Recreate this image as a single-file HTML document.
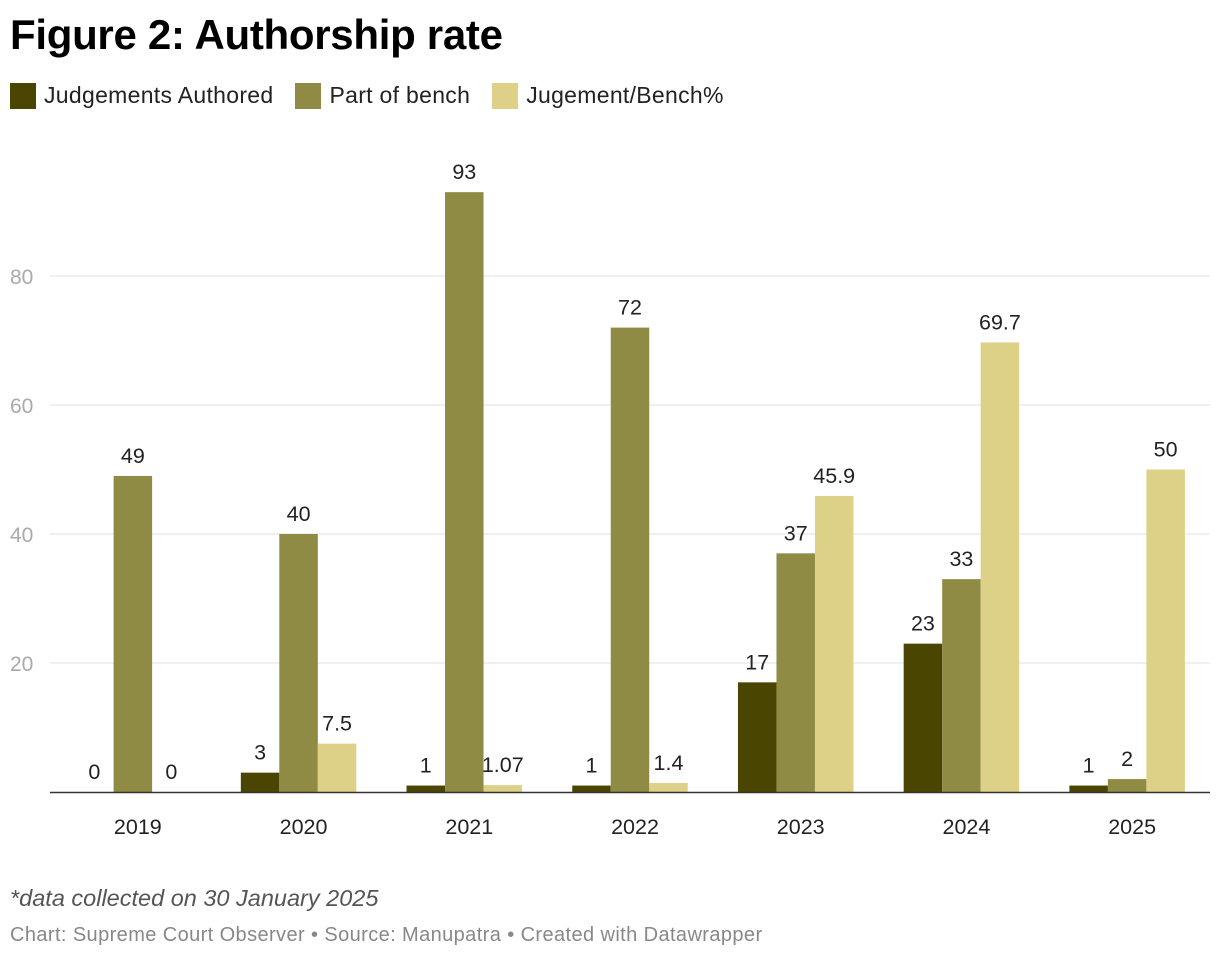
<!DOCTYPE html>
<html><head><meta charset="utf-8"><style>
body{margin:0;background:#fff;font-family:"Liberation Sans",sans-serif;width:1220px;height:962px;overflow:hidden;position:relative}
.t{position:absolute;left:10px;top:11px;font-size:42px;font-weight:bold;color:#000;letter-spacing:-0.3px}
.lg{position:absolute;top:82px;left:10px;display:flex;font-size:23px;color:#222;letter-spacing:0.3px}
.li{display:flex;align-items:center;margin-right:22px}
.sw{width:26px;height:26px;margin-right:8px}
.note{position:absolute;left:10px;top:885px;font-size:23.5px;font-style:italic;color:#555}
.src{position:absolute;left:10px;top:924px;font-size:20px;color:#888;letter-spacing:0.4px}
</style></head><body>
<div class="t">Figure 2: Authorship rate</div>
<div class="lg">
<div class="li"><div class="sw" style="background:#4a4500"></div>Judgements Authored</div>
<div class="li"><div class="sw" style="background:#8f8a44"></div>Part of bench</div>
<div class="li"><div class="sw" style="background:#ddd187"></div>Jugement/Bench%</div>
</div>
<svg id="ch" width="1220" height="962" style="position:absolute;left:0;top:0"></svg>
<div class="note">*data collected on 30 January 2025</div>
<div class="src">Chart: Supreme Court Observer • Source: Manupatra • Created with Datawrapper</div>
<script>
const years=["2019","2020","2021","2022","2023","2024","2025"];
const authored=[0,3,1,1,17,23,1];
const bench=[49,40,93,72,37,33,2];
const ratio=[0,7.5,1.07,1.4,45.9,69.7,50];
const ticks=[20,40,60,80];
const svg=document.getElementById('ch');const NS="http://www.w3.org/2000/svg";
const x0=50,x1=1210,y0=792,ppu=6.45;
const y=v=>y0-v*ppu;
const gw=(x1-x0)/years.length,bw=38.5;
function mk(t,a,txt){const e=document.createElementNS(NS,t);for(const k in a)e.setAttribute(k,a[k]);if(txt!==undefined)e.textContent=txt;svg.appendChild(e);return e;}
ticks.forEach(t=>{
const l=mk('line',{x1:x0,x2:x1,y1:y(t),y2:y(t),stroke:'#e0e0e0','stroke-width':1});


const tx=mk('text',{x:10,y:y(t)+8,'font-size':21,fill:'#aaa','font-family':'Liberation Sans'},t);


});
const series=[[authored,'#4a4500'],[bench,'#8f8a44'],[ratio,'#ddd187']];
years.forEach((yr,i)=>{
const c=x0+gw*(i+0.5);
series.forEach(([arr,col],j)=>{
const v=arr[i];const bx=c+(j-1.5)*bw;
const r=mk('rect',{x:bx,y:y(v),width:bw,height:v*ppu,fill:col});


const lb=mk('text',{x:bx+bw/2,y:y(v)-13,'font-size':21.5,fill:'#222','text-anchor':'middle','font-family':'Liberation Sans'},String(v));


});
const xl=mk('text',{x:c+5,y:834,'font-size':21.5,fill:'#222','text-anchor':'middle','font-family':'Liberation Sans'},yr);


});
const ax=mk('line',{x1:x0,x2:x1,y1:y0+0.5,y2:y0+0.5,stroke:'#333','stroke-width':1.5});


</script>
</body></html>
